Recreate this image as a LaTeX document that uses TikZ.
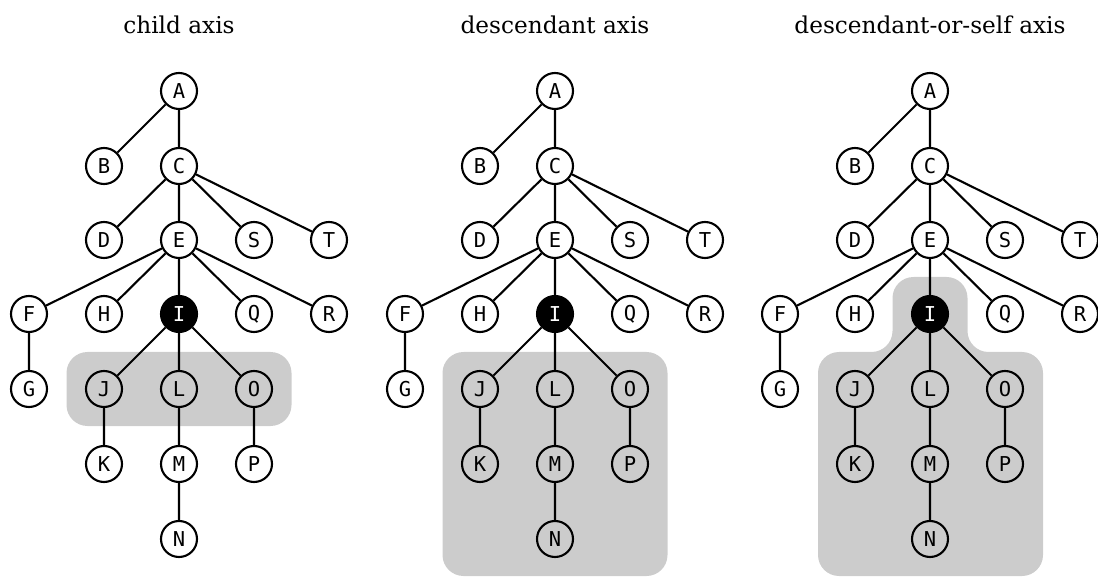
\documentclass[tikz,border=0pt]{standalone}
\usepackage{fontspec}
\newfontfamily\titlefont{DejaVu Serif}
\newfontfamily\labelfont{DejaVu Sans Mono}
\definecolor{axisgray}{HTML}{CCCCCC}
\tikzset{
  treenode/.style={circle, draw=black, line width=2.1pt, minimum size=36pt, inner sep=0pt,
    font=\labelfont\fontsize{20.5}{21}\selectfont},
  contextnode/.style={treenode, fill=black, text=white},
  edge/.style={line width=2.1pt},
  axistitle/.style={anchor=base, font=\titlefont\fontsize{23.2}{24}\selectfont},
  region/.style={fill=axisgray, rounded corners=21pt},
}
% one tree; #1 = name prefix, #2 = horizontal offset
\newcommand\xptree[2]{%
\begin{scope}[xshift=#2pt]
  \node[treenode] (#1A) at (179,91) {A};
  \node[treenode] (#1B) at (104,166) {B};
  \node[treenode] (#1C) at (179,166) {C};
  \node[treenode] (#1D) at (104,240) {D};
  \node[treenode] (#1E) at (179,240) {E};
  \node[treenode] (#1S) at (254,240) {S};
  \node[treenode] (#1T) at (329,240) {T};
  \node[treenode] (#1F) at (29,314) {F};
  \node[treenode] (#1H) at (104,314) {H};
  \node[contextnode] (#1I) at (179,314) {I};
  \node[treenode] (#1Q) at (254,314) {Q};
  \node[treenode] (#1R) at (329,314) {R};
  \node[treenode] (#1G) at (29,389) {G};
  \node[treenode] (#1J) at (104,389) {J};
  \node[treenode] (#1L) at (179,389) {L};
  \node[treenode] (#1O) at (254,389) {O};
  \node[treenode] (#1K) at (104,464) {K};
  \node[treenode] (#1M) at (179,464) {M};
  \node[treenode] (#1P) at (254,464) {P};
  \node[treenode] (#1N) at (179,539) {N};
  \draw[edge] (#1A) -- (#1B) (#1A) -- (#1C)
    (#1C) -- (#1D) (#1C) -- (#1E) (#1C) -- (#1S) (#1C) -- (#1T)
    (#1E) -- (#1F) (#1E) -- (#1H) (#1E) -- (#1I) (#1E) -- (#1Q) (#1E) -- (#1R)
    (#1F) -- (#1G)
    (#1I) -- (#1J) (#1I) -- (#1L) (#1I) -- (#1O)
    (#1J) -- (#1K) (#1L) -- (#1M) (#1O) -- (#1P) (#1M) -- (#1N);
\end{scope}}
\begin{document}
\begin{tikzpicture}[x=1pt, y=-1pt]
  \useasboundingbox (0,0) rectangle (1098,577);
  % shaded node sets
  \fill[region] (66.5,352) rectangle (291.5,426);
  \fill[region] (442.5,352) rectangle (667.5,576);
  \fill[region] (892.5,277) -- (967.5,277) -- (967.5,352) -- (1043,352)
    -- (1043,576) -- (818,576) -- (818,352) -- (892.5,352) -- cycle;
  % titles
  \node[axistitle] (t1) at (179,34) {child axis};
  \node[axistitle] (t2) at (555,34) {descendant axis};
  \node[axistitle] (t3) at (930,34) {descendant-or-self axis};
  % trees
  \xptree{a}{0}
  \xptree{b}{376}
  \xptree{c}{751}
\end{tikzpicture}
\end{document}
